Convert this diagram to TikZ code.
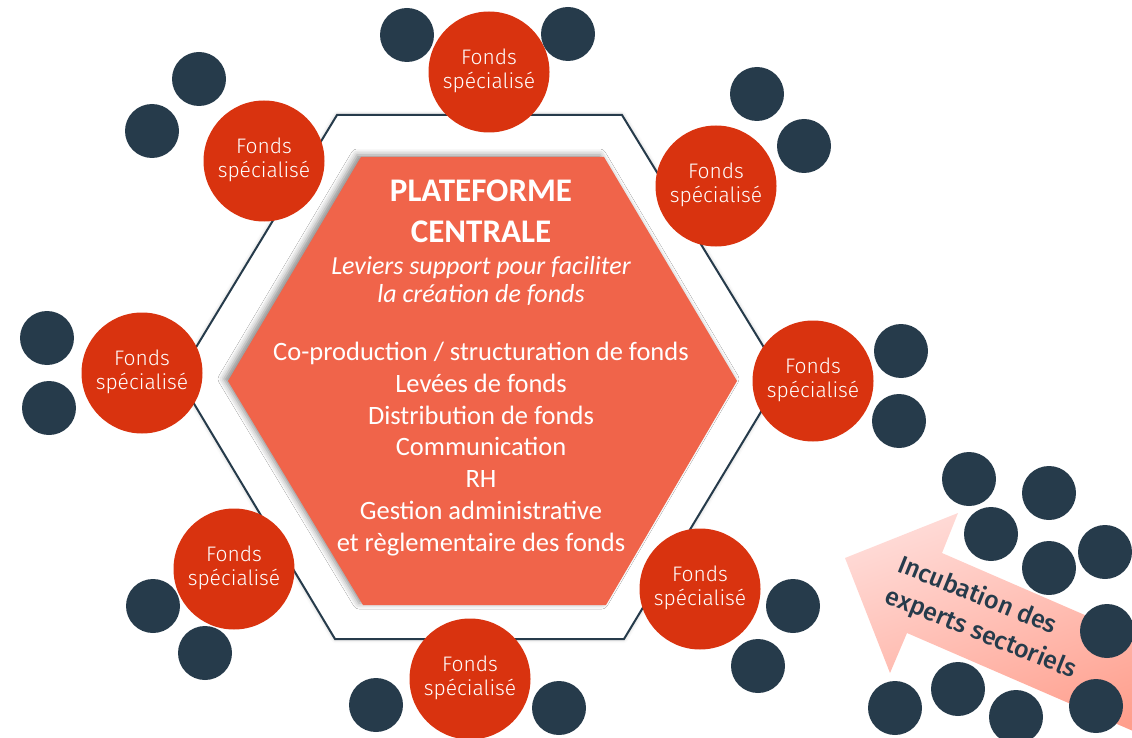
\documentclass[tikz,border=0pt]{standalone}
\usepackage{fontspec}
\setmainfont{Carlito}
\newfontfamily\lightfont{Fira Sans Light}
\newfontfamily\medfont{Fira Sans Medium}
\usetikzlibrary{shadows.blur}
\definecolor{navy}{HTML}{263B4B}
\definecolor{fred}{HTML}{D9330F}
\definecolor{hexfill}{HTML}{F0644A}
\definecolor{arrlight}{HTML}{FFDAD6}
\definecolor{arrdark}{HTML}{FF9E8C}
\tikzset{
  fonds/.style={circle, fill=fred, minimum size=121pt, inner sep=0pt, text=white,
    align=center, text depth=6pt, font=\lightfont\fontsize{21}{24}\selectfont},
  dot/.style={circle, fill=navy, minimum size=54pt, inner sep=0pt},
  outlinehex/.style={draw=navy, line width=2pt, fill=white,
    blur shadow={shadow xshift=0pt, shadow yshift=0pt, shadow blur radius=4pt, shadow opacity=25}},
  innerhex/.style={fill=hexfill,
    blur shadow={shadow xshift=-4pt, shadow yshift=2pt, shadow blur radius=6pt, shadow opacity=45}},
  arrowshape/.style={top color=arrlight, bottom color=arrdark, shading angle=20},
  ctext/.style={text=white, align=center, inner sep=0pt}
}
\begin{document}
\begin{tikzpicture}[x=1pt,y=-1pt]
\useasboundingbox (0,0) rectangle (1132,738);

% outline hexagon
\path[outlinehex] (178,377) -- (337,115) -- (622,115) -- (782,377) -- (624,639) -- (335,639) -- cycle;

% inner hexagon
\path[innerhex] (228,381) -- (361,157) -- (604,157) -- (737,381) -- (606,605) -- (363,605) -- cycle;

% central text
\node[ctext, font=\bfseries\fontsize{33}{41}\selectfont] (title) at (481,211) {PLATEFORME\\CENTRALE};
\node[ctext, font=\itshape\fontsize{26}{28}\selectfont] (sub) at (481,281) {Leviers support pour faciliter\\la création de fonds};
\node[ctext, font=\fontsize{26.5}{31.8}\selectfont] (list) at (481,449) {Co-production / structuration de fonds\\Levées de fonds\\Distribution de fonds\\Communication\\RH\\Gestion administrative\\et règlementaire des fonds};

% specialised funds
\node[fonds] (f1) at (489,72) {Fonds\\spécialisé};
\node[fonds] (f2) at (264,161) {Fonds\\spécialisé};
\node[fonds] (f3) at (716,186) {Fonds\\spécialisé};
\node[fonds] (f4) at (142,373) {Fonds\\spécialisé};
\node[fonds] (f5) at (813,381) {Fonds\\spécialisé};
\node[fonds] (f6) at (234,569) {Fonds\\spécialisé};
\node[fonds] (f7) at (700,589) {Fonds\\spécialisé};
\node[fonds] (f8) at (470,679) {Fonds\\spécialisé};

% dark dots around funds
\node[dot] (d1) at (407,35) {};
\node[dot] (d2) at (568,34) {};
\node[dot] (d3) at (199,79) {};
\node[dot] (d4) at (152,131) {};
\node[dot] (d5) at (757,94) {};
\node[dot] (d6) at (804,146) {};
\node[dot] (d7) at (47,338) {};
\node[dot] (d8) at (49,408) {};
\node[dot] (d9) at (901,351) {};
\node[dot] (d10) at (899,421) {};
\node[dot] (d11) at (153,606) {};
\node[dot] (d12) at (205,653) {};
\node[dot] (d13) at (793,606) {};
\node[dot] (d14) at (758,666) {};
\node[dot] (d15) at (376,705) {};
\node[dot] (d16) at (559,708) {};

% incubation arrow
\path[arrowshape] (845,558) -- (958,513) -- (942,553) -- (1170,652) -- (1170,747) -- (907,633) -- (890,673) -- cycle;

% expert dots
\node[dot] (e1) at (969,479) {};
\node[dot] (e2) at (1049,493) {};
\node[dot] (e3) at (991,534) {};
\node[dot] (e4) at (1049,568) {};
\node[dot] (e5) at (1105,552) {};
\node[dot] (e6) at (1107,631) {};
\node[dot] (e7) at (895,708) {};
\node[dot] (e8) at (958,689) {};
\node[dot] (e9) at (1016,717) {};
\node[dot] (e10) at (1096,706) {};

\node[text=navy, align=left, rotate=-22, inner sep=0pt, font=\medfont\fontsize{25}{33.5}\selectfont] (incub) at (987,618) {Incubation des\\experts sectoriels};
\end{tikzpicture}
\end{document}
